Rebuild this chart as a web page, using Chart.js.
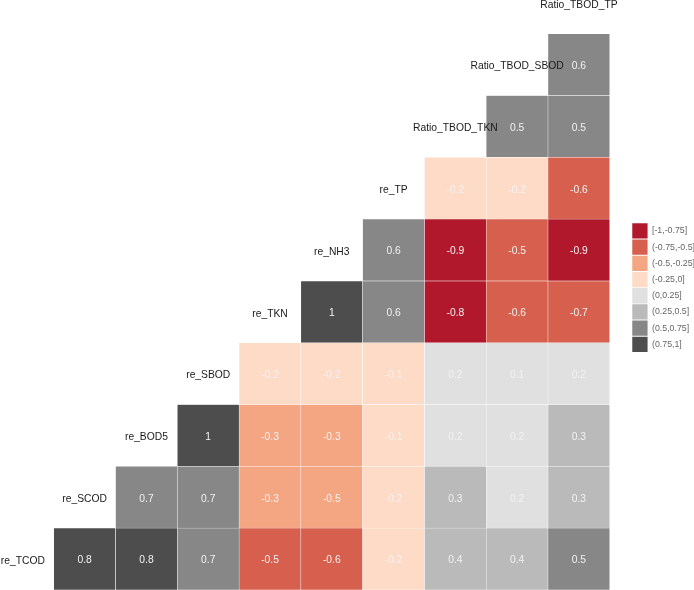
<!DOCTYPE html>
<html><head><meta charset="utf-8">
<script src="https://cdn.jsdelivr.net/npm/chart.js@4.4.1/dist/chart.umd.min.js"></script>
<style>
html,body{margin:0;padding:0;background:#fff;overflow:hidden;width:694px;height:590px;}
#c{position:absolute;left:-8px;top:-28px;}
</style></head><body>
<canvas id="c" width="703" height="618"></canvas>
<script>
// Variables (diagonal labels, bottom-left to top-right)
const variables = ['re_TCOD','re_SCOD','re_BOD5','re_SBOD','re_TKN','re_NH3','re_TP','Ratio_TBOD_TKN','Ratio_TBOD_SBOD','Ratio_TBOD_TP'];

// Correlations of each variable with the variables after it
const corrTCOD  = [0.82, 0.78, 0.71, -0.52, -0.58, -0.19, 0.42, 0.38, 0.53];
const corrSCOD  = [0.69, 0.71, -0.31, -0.48, -0.20, 0.31, 0.20, 0.28];
const corrBOD5  = [0.98, -0.29, -0.33, -0.12, 0.18, 0.22, 0.32];
const corrSBOD  = [-0.18, -0.21, -0.12, 0.20, 0.11, 0.17];
const corrTKN   = [0.97, 0.60, -0.81, -0.62, -0.68];
const corrNH3   = [0.58, -0.88, -0.52, -0.90];
const corrTP    = [-0.22, -0.18, -0.63];
const corrRTKN  = [0.54, 0.52];
const corrRSBOD = [0.62];
const corrRows = [corrTCOD, corrSCOD, corrBOD5, corrSBOD, corrTKN, corrNH3, corrTP, corrRTKN, corrRSBOD];

// Colour bins (legend)
const binUpper  = [-0.75, -0.5, -0.25, 0, 0.25, 0.5, 0.75, 1];
const binColors = ['#B2182B','#D6604D','#F4A582','#FDDBC7','#E0E0E0','#BABABA','#878787','#4D4D4D'];
const binLabels = ['[-1,-0.75]','(-0.75,-0.5]','(-0.5,-0.25]','(-0.25,0]','(0,0.25]','(0.25,0.5]','(0.5,0.75]','(0.75,1]'];

function binOf(v){ for (let i = 0; i < binUpper.length; i++) if (v <= binUpper[i]) return i; return binUpper.length - 1; }

const FONT = '"Liberation Sans", Arial, sans-serif';
const AREA_W = 617.8, AREA_H = 618;
const LEG_PAD = 0.9;
const LEGEND_BOX_X = 640; // canvas coords
let spacerW = 20;

const datasets = corrRows.map((vals, r) => {
  const corr = variables.map((_, c) => c > r ? vals[c - r - 1] : null);
  return {
    label: variables[r],
    data: variables.map((_, c) => c > r ? [r - 0.5, r + 0.5] : null),
    corr: corr,
    backgroundColor: corr.map(v => v === null ? 'rgba(0,0,0,0)' : binColors[binOf(v)]),
    borderColor: '#ffffff',
    borderWidth: 0.5,
    borderSkipped: false,
    grouped: false,
    barPercentage: 1,
    categoryPercentage: 1
  };
});

const textPlugin = {
  id: 'cellText',
  afterDatasetsDraw(chart) {
    const ctx = chart.ctx;
    ctx.save();
    ctx.font = '10.3px ' + FONT;
    ctx.textAlign = 'center';
    ctx.textBaseline = 'middle';
    chart.data.datasets.forEach((ds, di) => {
      const meta = chart.getDatasetMeta(di);
      meta.data.forEach((el, i) => {
        const v = ds.corr[i];
        if (v === null || v === undefined) return;
        const p = el.getCenterPoint();
        ctx.fillStyle = '#f2f2f2';
        ctx.fillText(String(Math.round(v * 10) / 10), p.x, p.y + 1.5);
      });
    });
    const xs = chart.scales.x, ys = chart.scales.y;
    ctx.fillStyle = '#1a1a1a';
    variables.forEach((name, r) => {
      ctx.fillText(name, xs.getPixelForValue(r), ys.getPixelForValue(r) + 1.8);
    });
    ctx.restore();
  }
};

const chart = new Chart(document.getElementById('c'), {
  type: 'bar',
  data: { labels: variables, datasets: datasets },
  options: {
    responsive: false,
    maintainAspectRatio: false,
    animation: false,
    devicePixelRatio: 1,
    layout: { padding: 0 },
    scales: {
      x: { type: 'category', labels: variables, display: false, offset: true },
      y: { type: 'linear', min: -0.5, max: 9.5, display: false },
      spacer: {
        type: 'linear', axis: 'y', position: 'right', display: true,
        grid: { display: false }, border: { display: false }, ticks: { display: false },
        afterFit(s) { s.width = spacerW; }
      }
    },
    plugins: {
      tooltip: { enabled: false },
      legend: {
        position: 'right',
        align: 'center',
        onClick: null,
        title: { display: true, text: ' ', font: { size: 1, lineHeight: 1 }, padding: { top: 6.15, bottom: 6.15 } },
        labels: {
          boxWidth: 15.3,
          boxHeight: 15.3,
          padding: LEG_PAD,
          color: '#111111',
          font: { family: FONT, size: 8.8 },
          generateLabels: () => binLabels.map((t, i) => ({
            text: t, fillStyle: binColors[i], strokeStyle: binColors[i], lineWidth: 0, hidden: false, index: i
          }))
        }
      }
    }
  },
  plugins: [textPlugin]
});

// Fit canvas so that the plot area cells and legend land where they should
const lw = chart.legend.width;
const legendLeft = LEGEND_BOX_X - LEG_PAD;
const W = Math.round(legendLeft + lw);
spacerW = W - lw - AREA_W;
chart.resize(W, AREA_H);
</script>
</body></html>
